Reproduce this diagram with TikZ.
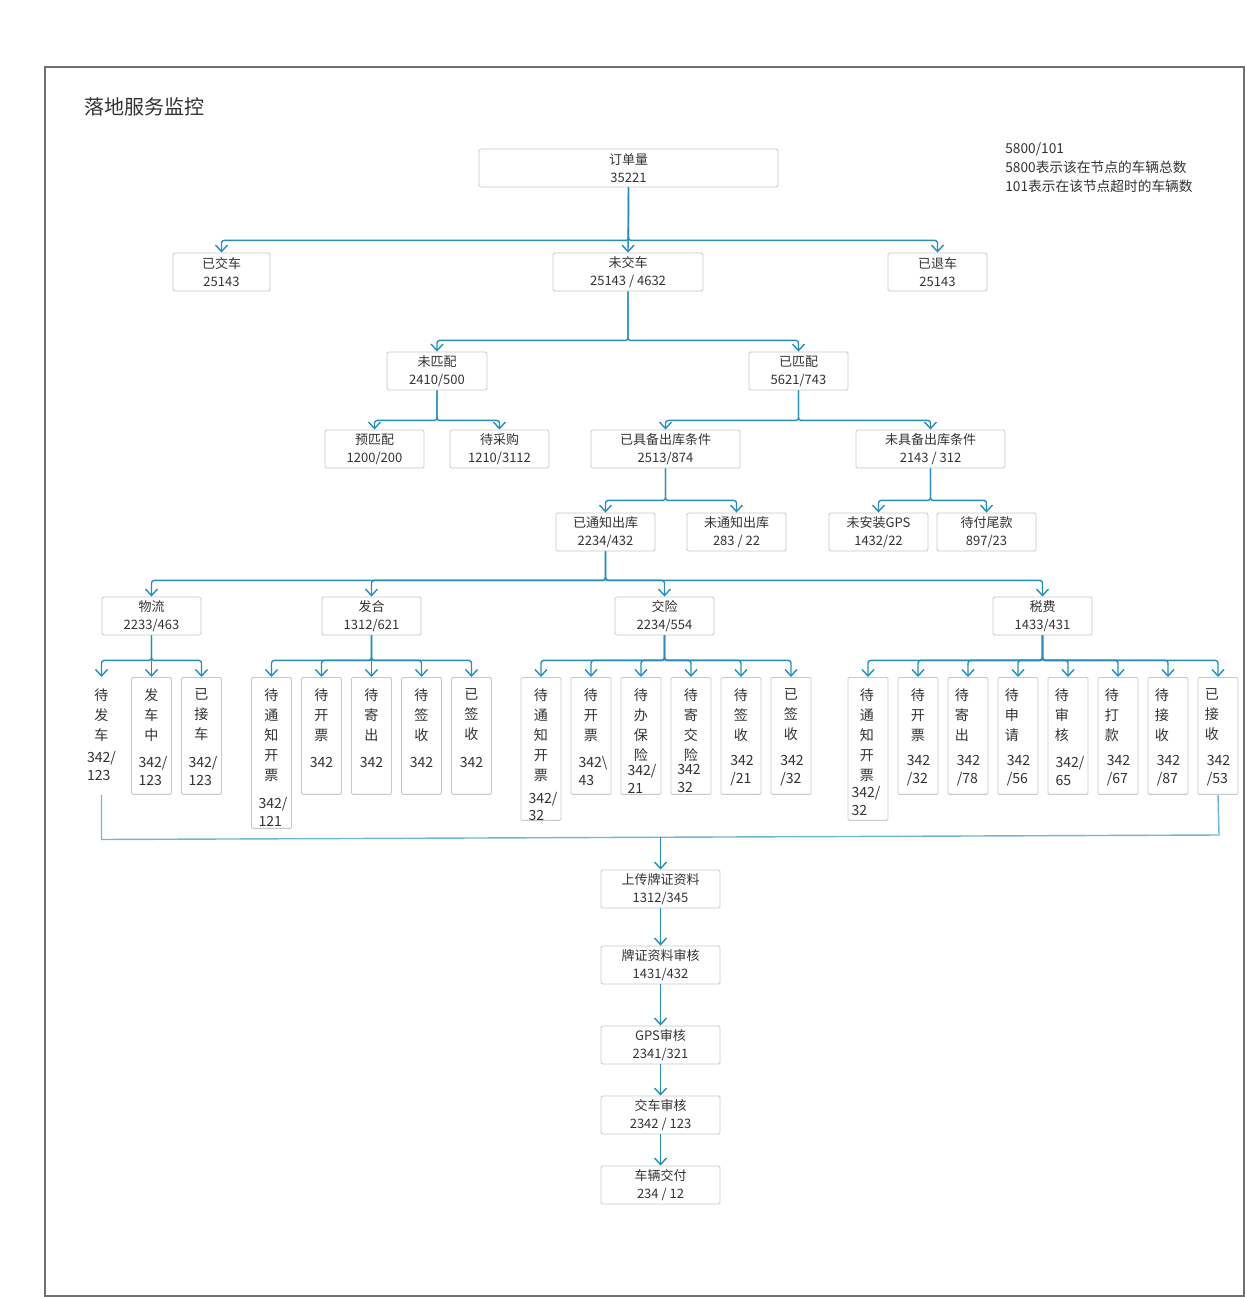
\documentclass[tikz,border=0pt]{standalone}
\usepackage{fontspec}
\setmainfont{Noto Sans CJK SC}
\usepackage{tikz}
\usetikzlibrary{arrows.meta}
\definecolor{linkblue}{RGB}{34,143,192}
\definecolor{mergeblue}{RGB}{110,183,214}
\definecolor{boxgray}{RGB}{200,200,200}
\definecolor{framegray}{RGB}{112,112,112}
\definecolor{textgray}{RGB}{51,51,51}

\begin{document}
\begin{tikzpicture}[x=0.02cm, y=-0.02cm,
	box/.style={draw=boxgray, line width=0.5pt, rounded corners=0.8pt, fill=white, text=textgray, align=center, inner sep=0pt, minimum height=0.76cm, minimum width=1.98cm, font=\fontsize{7.4}{10.2}\selectfont},
	leaf/.style={draw=boxgray, line width=0.5pt, rounded corners=0.8pt, anchor=north, minimum width=0.8cm, minimum height=2.34cm, inner sep=0pt},
	leafchar/.style={text=textgray, align=center, anchor=north, inner sep=0pt, font=\fontsize{8}{11.4}\selectfont},
	leafnum/.style={text=textgray, align=left, inner sep=0pt, font=\fontsize{8}{10.2}\selectfont},
	link/.style={draw=linkblue, line width=0.8pt, rounded corners=1.5pt, -{Straight Barb[length=1.3mm, width=2.4mm]}},
	mergeline/.style={draw=mergeblue, line width=0.8pt}]
	\useasboundingbox (0,0) rectangle (1245,1297);
	\draw[draw=framegray, line width=0.6pt] (45,67) rectangle (1244,1296);

	\node[anchor=west, text=textgray, inner sep=0pt, font=\fontsize{11.4}{14}\selectfont] (title) at (84,107) {落地服务监控};
	\node[anchor=north west, align=left, text=textgray, inner sep=0pt, font=\fontsize{7.8}{11}\selectfont] (legend) at (1005,142) {5800/101\\5800表示该在节点的车辆总数\\101表示在该节点超时的车辆数};

	\node[box, minimum width=5.98cm] (order) at (628.5,168) {订单量\\35221};
	\node[box, minimum width=1.94cm] (delivered) at (221.5,272) {已交车\\25143};
	\node[box, minimum width=3.00cm] (undelivered) at (628,272) {未交车\\25143 / 4632};
	\node[box] (returned) at (937.5,272) {已退车\\25143};
	\node[box, minimum width=2.00cm] (unmatched) at (437,371) {未匹配\\2410/500};
	\node[box] (matched) at (798.5,371) {已匹配\\5621/743};
	\node[box] (prematch) at (374.5,449) {预匹配\\1200/200};
	\node[box] (purchase) at (499.5,449) {待采购\\1210/3112};
	\node[box, minimum width=2.98cm] (ready) at (665.5,449) {已具备出库条件\\2513/874};
	\node[box, minimum width=2.98cm] (notready) at (930.5,449) {未具备出库条件\\2143 / 312};
	\node[box] (notified) at (605.5,532) {已通知出库\\2234/432};
	\node[box] (unnotified) at (736.5,532) {未通知出库\\283 / 22};
	\node[box] (nogps) at (878.5,532) {未安装GPS\\1432/22};
	\node[box] (balance) at (986.5,532) {待付尾款\\897/23};
	\node[box] (logi) at (151.5,616) {物流\\2233/463};
	\node[box] (fahe) at (371.5,616) {发合\\1312/621};
	\node[box] (insur) at (664.5,616) {交险\\2234/554};
	\node[box] (tax) at (1042.5,616) {税费\\1433/431};

	\node[leaf, draw=none] (logi1) at (101.5,677) {};
	\node[leaf] (logi2) at (151.5,677) {};
	\node[leaf] (logi3) at (201.5,677) {};
	\node[leaf, minimum height=3.02cm] (fahe1) at (271.5,677) {};
	\node[leaf] (fahe2) at (321.5,677) {};
	\node[leaf] (fahe3) at (371.5,677) {};
	\node[leaf] (fahe4) at (421.5,677) {};
	\node[leaf] (fahe5) at (471.5,677) {};
	\node[leaf, minimum height=2.86cm] (insur1) at (541,677) {};
	\node[leaf] (insur2) at (591,677) {};
	\node[leaf] (insur3) at (641,677) {};
	\node[leaf] (insur4) at (691,677) {};
	\node[leaf] (insur5) at (741,677) {};
	\node[leaf] (insur6) at (791,677) {};
	\node[leaf, minimum height=2.86cm] (tax1) at (868,677) {};
	\node[leaf] (tax2) at (918,677) {};
	\node[leaf] (tax3) at (968,677) {};
	\node[leaf] (tax4) at (1018,677) {};
	\node[leaf] (tax5) at (1068,677) {};
	\node[leaf] (tax6) at (1118,677) {};
	\node[leaf] (tax7) at (1168,677) {};
	\node[leaf] (tax8) at (1218,677) {};

	\node[leafchar] (logi1c) at (101.5,688) {待\\发\\车};
	\node[leafchar] (logi2c) at (151.5,688) {发\\车\\中};
	\node[leafchar] (logi3c) at (201.5,688) {已\\接\\车};
	\node[leafchar] (fahe1c) at (271.5,688) {待\\通\\知\\开\\票};
	\node[leafchar] (fahe2c) at (321.5,688) {待\\开\\票};
	\node[leafchar] (fahe3c) at (371.5,688) {待\\寄\\出};
	\node[leafchar] (fahe4c) at (421.5,688) {待\\签\\收};
	\node[leafchar] (fahe5c) at (471.5,688) {已\\签\\收};
	\node[leafchar] (insur1c) at (541,688) {待\\通\\知\\开\\票};
	\node[leafchar] (insur2c) at (591,688) {待\\开\\票};
	\node[leafchar] (insur3c) at (641,688) {待\\办\\保\\险};
	\node[leafchar] (insur4c) at (691,688) {待\\寄\\交\\险};
	\node[leafchar] (insur5c) at (741,688) {待\\签\\收};
	\node[leafchar] (insur6c) at (791,688) {已\\签\\收};
	\node[leafchar] (tax1c) at (867,688) {待\\通\\知\\开\\票};
	\node[leafchar] (tax2c) at (918,688) {待\\开\\票};
	\node[leafchar] (tax3c) at (962,688) {待\\寄\\出};
	\node[leafchar] (tax4c) at (1012,688) {待\\申\\请};
	\node[leafchar] (tax5c) at (1062,688) {待\\审\\核};
	\node[leafchar] (tax6c) at (1112,688) {待\\打\\款};
	\node[leafchar] (tax7c) at (1162,688) {待\\接\\收};
	\node[leafchar] (tax8c) at (1212,688) {已\\接\\收};

	\node[leafnum] (logi1n) at (101.5,766) {342/\\123};
	\node[leafnum] (logi2n) at (153,771) {342/\\123};
	\node[leafnum] (logi3n) at (203,771) {342/\\123};
	\node[leafnum] (fahe1n) at (273,812) {342/\\121};
	\node[leafnum] (fahe2n) at (321.5,762) {342};
	\node[leafnum] (fahe3n) at (371.5,762) {342};
	\node[leafnum] (fahe4n) at (421.5,762) {342};
	\node[leafnum] (fahe5n) at (471.5,762) {342};
	\node[leafnum] (insur1n) at (543,806.5) {342/\\32};
	\node[leafnum] (insur2n) at (593,771) {342\textbackslash\\43};
	\node[leafnum] (insur3n) at (642,778.5) {342/\\21};
	\node[leafnum] (insur4n) at (689,778.5) {342\\32};
	\node[leafnum] (insur5n) at (742,771) {342\\/21};
	\node[leafnum] (insur6n) at (792,771) {342\\/32};
	\node[leafnum] (tax1n) at (866,801) {342/\\32};
	\node[leafnum] (tax2n) at (918.5,771) {342\\/32};
	\node[leafnum] (tax3n) at (968.5,771) {342\\/78};
	\node[leafnum] (tax4n) at (1018.5,771) {342\\/56};
	\node[leafnum] (tax5n) at (1070,771) {342/\\65};
	\node[leafnum] (tax6n) at (1118.5,771) {342\\/67};
	\node[leafnum] (tax7n) at (1168.5,771) {342\\/87};
	\node[leafnum] (tax8n) at (1218.5,771) {342\\/53};

	\node[box, minimum width=2.38cm] (upload) at (660.5,889) {上传牌证资料\\1312/345};
	\node[box, minimum width=2.38cm] (review) at (660.5,965) {牌证资料审核\\1431/432};
	\node[box, minimum width=2.38cm] (gps) at (660.5,1045) {GPS审核\\2341/321};
	\node[box, minimum width=2.38cm] (handover) at (660.5,1115) {交车审核\\2342 / 123};
	\node[box, minimum width=2.38cm] (deliver) at (660.5,1185) {车辆交付\\234 / 12};

	\draw[link] (order.south) -- ++(0,53) -| (delivered.north);
	\draw[link] (order.south) -- (undelivered.north);
	\draw[link] (order.south) -- ++(0,53) -| (returned.north);
	\draw[link] (undelivered.south) -- ++(0,49) -| (unmatched.north);
	\draw[link] (undelivered.south) -- ++(0,49) -| (matched.north);
	\draw[link] (unmatched.south) -- ++(0,30) -| (prematch.north);
	\draw[link] (unmatched.south) -- ++(0,30) -| (purchase.north);
	\draw[link] (matched.south) -- ++(0,30) -| (ready.north);
	\draw[link] (matched.south) -- ++(0,30) -| (notready.north);
	\draw[link] (ready.south) -- ++(0,32) -| (notified.north);
	\draw[link] (ready.south) -- ++(0,32) -| (unnotified.north);
	\draw[link] (notready.south) -- ++(0,32) -| (nogps.north);
	\draw[link] (notready.south) -- ++(0,32) -| (balance.north);
	\draw[link] (notified.south) -- ++(0,29) -| (logi.north);
	\draw[link] (notified.south) -- ++(0,29) -| (fahe.north);
	\draw[link] (notified.south) -- ++(0,29) -| (insur.north);
	\draw[link] (notified.south) -- ++(0,29) -| (tax.north);

	\draw[link] (logi.south) -- ++(0,25) -| (logi1.north);
	\draw[link] (logi.south) -- (logi2.north);
	\draw[link] (logi.south) -- ++(0,25) -| (logi3.north);
	\draw[link] (fahe.south) -- ++(0,25) -| (fahe1.north);
	\draw[link] (fahe.south) -- ++(0,25) -| (fahe2.north);
	\draw[link] (fahe.south) -- (fahe3.north);
	\draw[link] (fahe.south) -- ++(0,25) -| (fahe4.north);
	\draw[link] (fahe.south) -- ++(0,25) -| (fahe5.north);
	\draw[link] (insur.south) -- ++(0,25) -| (insur1.north);
	\draw[link] (insur.south) -- ++(0,25) -| (insur2.north);
	\draw[link] (insur.south) -- ++(0,25) -| (insur3.north);
	\draw[link] (insur.south) -- ++(0,25) -| (insur4.north);
	\draw[link] (insur.south) -- ++(0,25) -| (insur5.north);
	\draw[link] (insur.south) -- ++(0,25) -| (insur6.north);
	\draw[link] (tax.south) -- ++(0,25) -| (tax1.north);
	\draw[link] (tax.south) -- ++(0,25) -| (tax2.north);
	\draw[link] (tax.south) -- ++(0,25) -| (tax3.north);
	\draw[link] (tax.south) -- ++(0,25) -| (tax4.north);
	\draw[link] (tax.south) -- ++(0,25) -| (tax5.north);
	\draw[link] (tax.south) -- ++(0,25) -| (tax6.north);
	\draw[link] (tax.south) -- ++(0,25) -| (tax7.north);
	\draw[link] (tax.south) -- ++(0,25) -| (tax8.north);

	\coordinate (mergeL) at (101.5,839.5);
	\coordinate (mergeR) at (1219,835);
	\coordinate (mergeM) at (660.5,837);
	\draw[mergeline] (logi1.south) -- (mergeL) -- (mergeR) -- (tax8.south);
	\draw[link] (mergeM) -- (upload.north);
	\draw[link] (upload.south) -- (review.north);
	\draw[link] (review.south) -- (gps.north);
	\draw[link] (gps.south) -- (handover.north);
	\draw[link] (handover.south) -- (deliver.north);
\end{tikzpicture}
\end{document}
